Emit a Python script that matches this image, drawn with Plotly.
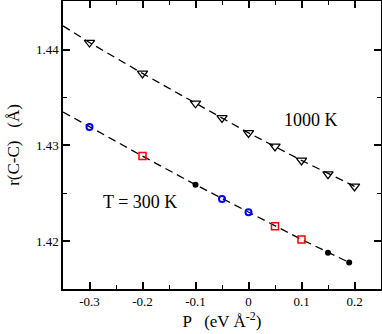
import plotly.graph_objects as go

# 1000 K points
p_1000 = [-0.3, -0.2, -0.1, -0.05, 0.0, 0.05, 0.1, 0.15, 0.2]
r_1000 = [1.44076, 1.43753, 1.43441, 1.43288, 1.43132, 1.42990, 1.42844, 1.42700, 1.42573]

# 300 K points, split by marker type
p_blue = [-0.3, -0.05, 0.0]
r_blue = [1.43194, 1.42441, 1.42302]
p_red = [-0.2, 0.05, 0.1]
r_red = [1.42889, 1.42156, 1.42018]
p_black = [-0.1, 0.15, 0.19]
r_black = [1.42590, 1.41878, 1.41777]

# dashed fit lines
fit_p_1000 = [-0.35, -0.3, -0.2, -0.1, 0.0, 0.1, 0.2]
fit_r_1000 = [1.44250, 1.44076, 1.43753, 1.43441, 1.43132, 1.42844, 1.42573]
fit_p_300 = [-0.35, -0.3, -0.2, -0.1, 0.0, 0.1, 0.19]
fit_r_300 = [1.43350, 1.43194, 1.42889, 1.42590, 1.42302, 1.42018, 1.41777]

x_ticks = [-0.3, -0.2, -0.1, 0.0, 0.1, 0.2]
x_ticktext = ["-0.3", "-0.2", "-0.1", "0", "0.1", "0.2"]
y_ticks = [1.42, 1.43, 1.44]
y_ticktext = ["1.42", "1.43", "1.44"]

serif = "Liberation Serif"
dash = dict(color="black", width=1.3, dash="8px,5px")

fig = go.Figure()
fig.add_trace(go.Scatter(x=fit_p_1000, y=fit_r_1000, mode="lines", line=dash))
fig.add_trace(go.Scatter(x=fit_p_300, y=fit_r_300, mode="lines", line=dash))

fig.add_trace(go.Scatter(x=p_1000, y=r_1000, mode="markers",
                         marker=dict(symbol="triangle-down-open", size=9, color="black",
                                     line=dict(width=1.3))))
fig.add_trace(go.Scatter(x=p_blue, y=r_blue, mode="markers",
                         marker=dict(symbol="circle-open", size=6, color="blue",
                                     line=dict(width=2))))
fig.add_trace(go.Scatter(x=p_red, y=r_red, mode="markers",
                         marker=dict(symbol="square-open", size=7, color="red",
                                     line=dict(width=1.5))))
fig.add_trace(go.Scatter(x=p_black, y=r_black, mode="markers",
                         marker=dict(symbol="circle", size=6, color="black")))

fig.add_annotation(x=0.117, y=1.4327, text="1000 K", showarrow=False,
                   font=dict(family=serif, size=18, color="black"))
fig.add_annotation(x=-0.205, y=1.4241, text="T = 300 K", showarrow=False,
                   font=dict(family=serif, size=18, color="black"))

axis_style = dict(showgrid=False, zeroline=False, showline=True, linecolor="black",
                  linewidth=1.5, mirror="ticks", ticks="inside", ticklen=7,
                  tickwidth=1.5, tickcolor="black", automargin=False,
                  tickfont=dict(family=serif, size=13, color="black"))

fig.update_xaxes(range=[-0.35, 0.25], tickvals=x_ticks, ticktext=x_ticktext,
                 minor=dict(dtick=0.05, ticks="inside", ticklen=4, tickcolor="black", tickwidth=1.3),
                 title=dict(text="P   (eV Å<sup>-2</sup>)", standoff=3,
                            font=dict(family=serif, size=17, color="black")),
                 **axis_style)
fig.update_yaxes(range=[1.415, 1.4451], tickvals=y_ticks, ticktext=y_ticktext,
                 minor=dict(dtick=0.005, ticks="inside", ticklen=4, tickcolor="black", tickwidth=1.3),
                 title=dict(text="r(C-C)   (Å)", standoff=12,
                            font=dict(family=serif, size=17, color="black")),
                 **axis_style)

fig.update_layout(width=382, height=334, showlegend=False,
                  margin=dict(l=63, r=1, t=1, b=45),
                  font=dict(family=serif),
                  plot_bgcolor="white", paper_bgcolor="white")

# drop the page's default body margin so the figure sits at the window corner
fig.write_html("out.html", config={"displayModeBar": False},
               post_script="document.body.style.margin='0px';")
